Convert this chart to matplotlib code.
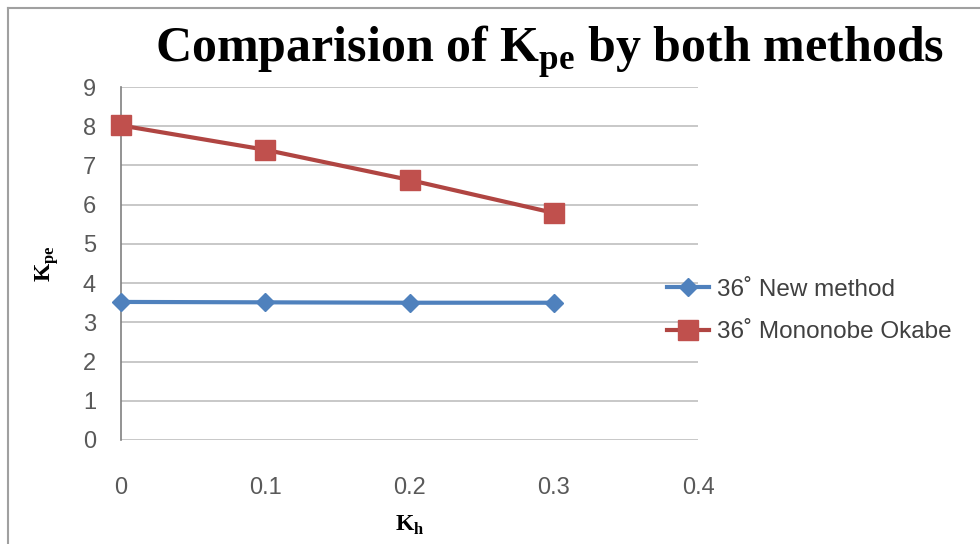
import matplotlib
matplotlib.use("Agg")
import matplotlib.pyplot as plt
from matplotlib.lines import Line2D

kh = [0, 0.1, 0.2, 0.3]
kpe_new = [3.52, 3.51, 3.50, 3.50]
kpe_mo = [8.02, 7.40, 6.63, 5.79]
xticks = [0, 0.1, 0.2, 0.3, 0.4]
yticks = list(range(0, 10))

blue = "#4F81BD"
red = "#C0504D"
tick_color = "#595959"

fig = plt.figure(figsize=(9.8, 5.44), dpi=100)
ax = fig.add_axes([121 / 980, 1 - 440 / 544, (698 - 121) / 980, (440 - 87) / 544])

ax.plot(kh, kpe_new, color=blue, lw=3, marker="D", ms=9, mec=blue, mfc=blue,
        label="36˚ New method", zorder=3, clip_on=False)
ax.plot(kh, kpe_mo, color="#B04542", lw=3, marker="s", ms=14, mec=red, mfc=red,
        label="36˚ Mononobe Okabe", zorder=3, clip_on=False)

ax.set_xlim(0, 0.4)
ax.set_ylim(0, 9)
ax.set_xticks(xticks)
ax.set_xticklabels(["0", "0.1", "0.2", "0.3", "0.4"])
ax.set_yticks(yticks)
ax.grid(axis="y", color="#BFBFBF", lw=1.2)
ax.set_axisbelow(True)

for s in ["top", "right", "bottom"]:
    ax.spines[s].set_visible(False)
ax.spines["left"].set_color("#808080")
ax.spines["left"].set_linewidth(1.2)

ax.tick_params(axis="both", length=0, colors=tick_color, labelsize=17)
ax.tick_params(axis="y", pad=18)
ax.tick_params(axis="x", pad=27)
for lab in ax.get_xticklabels() + ax.get_yticklabels():
    lab.set_family("Liberation Sans")

ax.set_xlabel("K$_\\mathregular{h}$", family="Liberation Serif", fontweight="bold",
              fontsize=17, labelpad=10)
ax.set_ylabel("K$_\\mathregular{pe}$", family="Liberation Serif", fontweight="bold",
              fontsize=17, labelpad=16)

fig.text(550 / 980, 1 - 52 / 544, "Comparision of K$_\\mathregular{pe}$ by both methods",
         family="Liberation Serif", fontweight="bold", fontsize=36,
         ha="center", va="center")

leg = ax.legend(loc="center left", bbox_to_anchor=(0.946, 0.365), frameon=False,
                borderpad=0, borderaxespad=0,
                prop={"family": "Liberation Sans", "size": 17.5}, labelspacing=0.85,
                handlelength=1.75, handletextpad=0.3, labelcolor="#404040")

# outer chart frame
fig.add_artist(Line2D([8 / 980, 1], [1 - 8 / 544, 1 - 8 / 544], color="#A0A0A0", lw=1.5))
fig.add_artist(Line2D([8 / 980, 8 / 980], [0, 1 - 8 / 544], color="#A0A0A0", lw=1.5))

fig.savefig("out.png", dpi=100)
